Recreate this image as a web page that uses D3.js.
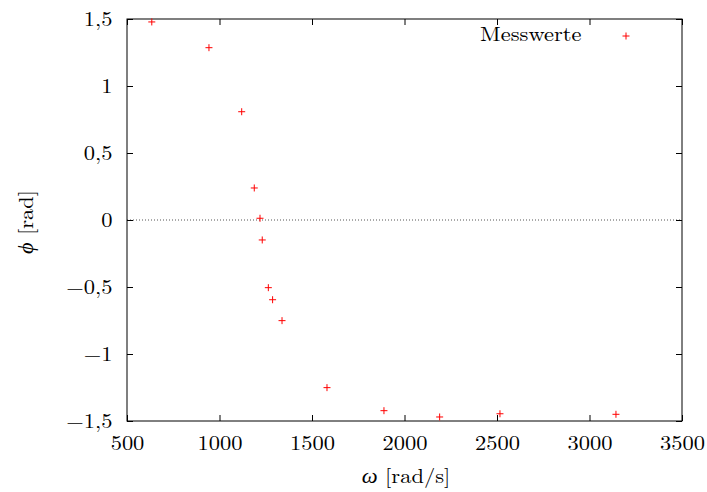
<!DOCTYPE html>
<html><head><meta charset="utf-8">
<script src="https://cdn.jsdelivr.net/npm/d3@7"></script>
<style>body{margin:0;background:#fff}svg{display:block}</style>
</head><body>
<script>
const omega = [634, 943, 1120, 1188, 1219, 1231, 1264, 1287, 1338, 1581, 1889, 2190, 2516, 3143];
const phi = [1.478, 1.286, 0.808, 0.239, 0.013, -0.149, -0.505, -0.595, -0.751, -1.251, -1.423, -1.47, -1.446, -1.45];
const xTicks = [500, 1000, 1500, 2000, 2500, 3000, 3500];
const yTicks = [-1.5, -1, -0.5, 0, 0.5, 1, 1.5];
const legendLabel = "Messwerte";
const xSym = "ω", xUnit = " [rad/s]";
const ySym = "ϕ", yUnit = " [rad]";

const FONT = '"Latin Modern Roman", "CMU Serif", "Liberation Serif", serif';
const SX = 1.125;
const W = 707, H = 492;
const m = {l: 127, r: 682, t: 19, b: 421};
const svg = d3.select("body").append("svg").attr("width", W).attr("height", H);
const x = d3.scaleLinear().domain([500, 3500]).range([m.l, m.r]);
const y = d3.scaleLinear().domain([-1.5, 1.5]).range([m.b, m.t]);
const fmt = v => (v < 0 ? "−" : "") + String(Math.abs(v)).replace(".", ",");

// zero line
svg.append("line").attr("x1", m.l).attr("x2", m.r).attr("y1", y(0)).attr("y2", y(0))
  .attr("stroke", "#555").attr("stroke-width", 1).attr("stroke-dasharray", "1,2");

const fs = 20;
// axes
const gB = svg.append("g").attr("transform", `translate(0,${m.b})`)
  .call(d3.axisBottom(x).tickValues(xTicks).tickSize(-6).tickPadding(15).tickFormat(d3.format("d")));
const gT = svg.append("g").attr("transform", `translate(0,${m.t})`)
  .call(d3.axisTop(x).tickValues(xTicks).tickSize(-6).tickFormat(""));
const gL = svg.append("g").attr("transform", `translate(${m.l},0)`)
  .call(d3.axisLeft(y).tickValues(yTicks).tickSize(-6).tickPadding(15).tickFormat(fmt));
const gR = svg.append("g").attr("transform", `translate(${m.r},0)`)
  .call(d3.axisRight(y).tickValues(yTicks).tickSize(-6).tickFormat(""));
[gB, gT, gL, gR].forEach(g => {
  g.attr("font-family", null).attr("font-size", null);
  g.selectAll(".domain").remove();
  g.selectAll("line").attr("stroke", "#000");
  g.selectAll("text").style("font-family", FONT).style("font-size", fs + "px").attr("fill", "#000")
    .attr("transform", `scale(${SX},1)`);
});
gB.selectAll("text").attr("dy", "0.71em");
gL.selectAll("text").attr("x", -14.5 / SX).attr("dy", "0.33em");
// frame
svg.append("rect").attr("x", m.l).attr("y", m.t).attr("width", m.r - m.l).attr("height", m.b - m.t)
  .attr("fill", "none").attr("stroke", "#000").attr("stroke-width", 1);

// points
const plus = (g, cx, cy) => {
  g.append("path").attr("d", `M${cx-3.5},${cy}H${cx+3.5}M${cx},${cy-3.5}V${cy+3.5}`)
    .attr("stroke", "#ff0000").attr("stroke-width", 1).attr("fill", "none");
};
const gp = svg.append("g");
omega.forEach((o, i) => plus(gp, x(o), y(phi[i])));

// legend
svg.append("text").attr("transform", `translate(581.5,41) scale(${SX},1)`).attr("text-anchor", "end")
  .style("font-family", FONT).style("font-size", fs + "px").text(legendLabel);
plus(svg, 626, 36);

// titles
const xt = svg.append("text").attr("transform", `translate(406,483) scale(${SX},1)`).attr("text-anchor", "middle")
  .style("font-family", FONT).style("font-size", fs + "px");
xt.append("tspan").attr("font-style", "italic").text(xSym);
xt.append("tspan").text(xUnit);
const yt = svg.append("text").attr("transform", `translate(33,222) rotate(-90) scale(${SX},1)`).attr("text-anchor", "middle")
  .style("font-family", FONT).style("font-size", fs + "px");
yt.append("tspan").attr("font-style", "italic").text(ySym);
yt.append("tspan").text(yUnit);
</script>
</body></html>
